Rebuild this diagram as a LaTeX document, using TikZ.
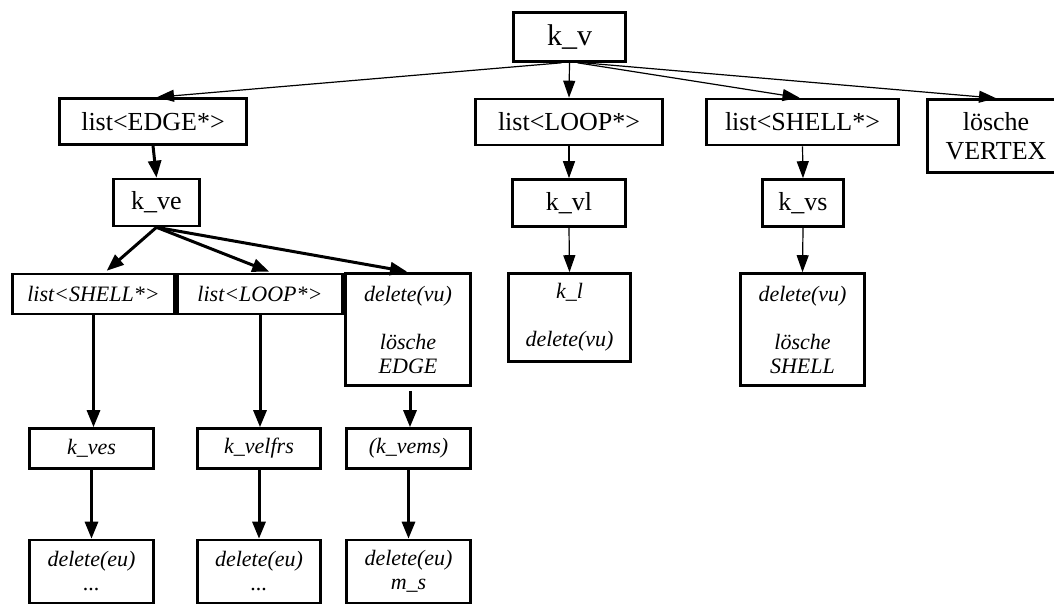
\documentclass[tikz,border=0pt]{standalone}
\usepackage{fontspec}
\setmainfont{Liberation Serif}
\usetikzlibrary{arrows.meta}

\tikzset{
  box/.style={draw, line width=2.6pt, inner sep=0pt, align=center,
    font=\fontsize{26}{29}\selectfont},
  ibox/.style={box, font=\fontsize{22}{24}\selectfont\itshape},
  thin/.style={line width=1.2pt, -{Triangle[length=17pt,width=12pt]}},
  thick/.style={line width=3pt, -{Triangle[length=17pt,width=13pt]}},
}

\begin{document}
\begin{tikzpicture}[x=1pt, y=-1pt]
\useasboundingbox (0,0) rectangle (1054,604);

% top level
\node[box, minimum width=112, minimum height=49, font=\fontsize{30}{32}\selectfont] (kv) at (569.5,37) {k\_v};
\node[box, minimum width=187, minimum height=46] (ledge)  at (153,121.5) {list<EDGE*>};
\node[box, minimum width=187, minimum height=46] (lloop)  at (569,122) {list<LOOP*>};
\node[box, minimum width=192, minimum height=46] (lshell) at (802.5,122) {list<SHELL*>};
\node[box, minimum width=137, minimum height=73] (vertex) at (996,136) {lösche\\VERTEX};

% second level
\node[box, minimum width=86,  minimum height=47] (kve) at (156.5,202.5) {k\_ve};
\node[box, minimum width=113, minimum height=47] (kvl) at (569,203) {k\_vl};
\node[box, minimum width=81,  minimum height=47] (kvs) at (803,203) {k\_vs};

% third level
\node[ibox, minimum width=162, minimum height=40] (ishell) at (93.5,294) {list<SHELL*>};
\node[ibox, minimum width=165, minimum height=40] (iloop)  at (260,294) {list<LOOP*>};
\node[ibox, minimum width=125, minimum height=112] (delvu) at (408,329.5) {delete(vu)\\[24pt]lösche\\EDGE};
\node[ibox, minimum width=122, minimum height=88] (kl) at (569.5,317.5) {k\_l\\[24pt]delete(vu)};
\node[ibox, minimum width=124, minimum height=112] (delvus) at (802.5,329.5) {delete(vu)\\[24pt]lösche\\SHELL};

% fourth level
\node[ibox, minimum width=124, minimum height=40] (kves)    at (91.5,448.5) {k\_ves};
\node[ibox, minimum width=123, minimum height=40] (kvelfrs) at (259,448.5) {k\_velfrs};
\node[ibox, minimum width=124, minimum height=40] (kvems)   at (408.5,448.5) {(k\_vems)};

% bottom level
\node[ibox, minimum width=124, minimum height=63] (dela) at (91.5,571.5) {delete(eu)\\...};
\node[ibox, minimum width=123, minimum height=63] (delb) at (259,571.5) {delete(eu)\\...};
\node[ibox, minimum width=124, minimum height=63] (delc) at (408.5,571.5) {delete(eu)\\m\_s};

% connectors from k_v
\draw[thin] ([xshift=-8pt]kv.south) -- ([xshift=4pt]ledge.north);
\draw[thin] (kv.south) -- (lloop.north);
\draw[thin] ([xshift=8pt]kv.south) -- ([xshift=-3pt]lshell.north);
\draw[thin] ([xshift=14pt]kv.south) -- (vertex.north);

% edge branch
\draw[thick] (ledge.south) -- (kve.north);
\draw[thick, shorten >=3pt] (kve.south) -- ([xshift=11pt]ishell.north);
\draw[thick, shorten >=3pt] (kve.south) -- ([xshift=12pt]iloop.north);
\draw[thick, shorten >=3pt] (kve.south) -- ([xshift=2pt]delvu.north);
\draw[thick] (ishell.south) -- (ishell.south |- kves.north);
\draw[thick] (iloop.south) -- (iloop.south |- kvelfrs.north);
\draw[thick, shorten <=4pt] ([xshift=2pt]delvu.south) -- ([xshift=2pt]delvu.south |- kvems.north);
\draw[thick] (kves.south) -- (dela.north);
\draw[thick] (kvelfrs.south) -- (delb.north);
\draw[thick] (kvems.south) -- (delc.north);

% loop and shell branches
\draw[thin] (lloop.south) -- (kvl.north);
\draw[thin] (kvl.south) -- (kl.north);
\draw[thin] (lshell.south) -- (kvs.north);
\draw[thin] (kvs.south) -- (delvus.north);
\end{tikzpicture}
\end{document}
